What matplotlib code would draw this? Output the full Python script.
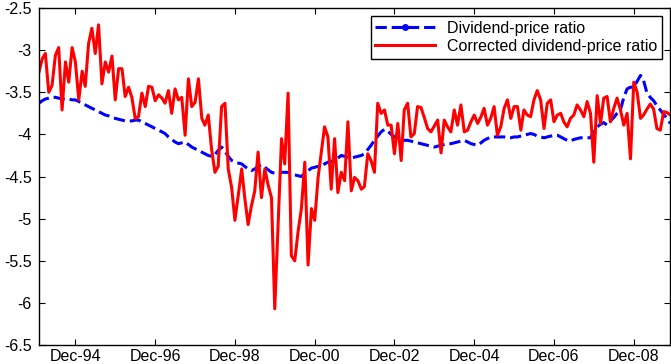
import numpy as np
import pandas as pd
import matplotlib
matplotlib.use('Agg')
import matplotlib.pyplot as plt
import matplotlib.dates as mdates
from matplotlib.lines import Line2D

plt.rcParams['font.family'] = ['Liberation Sans', 'DejaVu Sans']

# monthly observations, Jan 1994 - Nov 2009
dates = pd.date_range('1994-01-01', periods=191, freq='MS')

# corrected dividend-price ratio (red)
corrected_dp = [
    -3.26, -3.10, -3.04, -3.50, -3.42, -3.06, -2.97, -3.71, -3.14, -3.38,
    -2.97, -3.14, -3.59, -3.25, -3.43, -2.92, -2.74, -3.04, -2.70, -3.40,
    -3.14, -3.26, -3.07, -3.59, -3.22, -3.22, -3.55, -3.44, -3.56, -3.81,
    -3.79, -3.51, -3.67, -3.43, -3.44, -3.60, -3.53, -3.57, -3.63, -3.48,
    -3.75, -3.46, -3.59, -3.56, -4.01, -3.34, -3.67, -3.62, -3.34, -3.81,
    -3.89, -3.77, -4.17, -4.45, -4.38, -3.67, -3.63, -4.41, -4.63, -5.02,
    -4.72, -4.41, -4.75, -5.07, -4.85, -4.67, -4.21, -4.75, -4.41, -4.60,
    -4.75, -6.07, -5.05, -4.05, -4.35, -3.51, -5.44, -5.50, -5.16, -4.88,
    -4.33, -5.55, -4.88, -5.02, -4.51, -4.20, -3.91, -4.03, -4.65, -4.05,
    -4.69, -4.45, -4.55, -3.85, -4.67, -4.51, -4.55, -4.65, -4.62, -4.23,
    -4.31, -4.45, -3.63, -3.75, -3.71, -3.89, -3.89, -4.23, -3.87, -4.31,
    -3.71, -3.63, -4.03, -3.99, -3.67, -3.68, -3.80, -3.93, -3.97, -3.90,
    -3.83, -4.22, -3.83, -3.91, -3.97, -3.71, -3.89, -3.65, -3.97, -3.95,
    -3.85, -3.77, -3.87, -3.79, -3.69, -3.89, -3.81, -3.67, -4.01, -3.91,
    -3.69, -3.59, -3.81, -3.67, -3.67, -3.95, -3.71, -3.77, -3.79, -3.59,
    -3.48, -3.59, -3.93, -3.63, -3.59, -3.85, -3.77, -3.75, -3.85, -3.91,
    -3.81, -3.77, -3.65, -3.71, -3.79, -3.61, -3.75, -4.33, -3.54, -3.87,
    -3.57, -3.55, -3.85, -3.69, -3.57, -3.71, -3.89, -3.75, -4.29, -3.38,
    -3.50, -3.81, -3.77, -3.70, -3.64, -3.70, -3.93, -3.95, -3.73, -3.74,
    -3.77,
]

# plain dividend-price ratio (blue, dashed)
dp_ratio = [
    -3.63, -3.60, -3.58, -3.57, -3.56, -3.56, -3.57, -3.58, -3.58, -3.58,
    -3.59, -3.59, -3.61, -3.63, -3.65, -3.67, -3.69, -3.71, -3.73, -3.75,
    -3.77, -3.78, -3.80, -3.81, -3.82, -3.83, -3.84, -3.84, -3.84, -3.83,
    -3.83, -3.85, -3.87, -3.89, -3.91, -3.93, -3.95, -3.97, -3.99, -4.03,
    -4.06, -4.09, -4.11, -4.10, -4.09, -4.12, -4.15, -4.17, -4.19, -4.21,
    -4.23, -4.25, -4.26, -4.24, -4.19, -4.15, -4.20, -4.26, -4.31, -4.33,
    -4.34, -4.35, -4.38, -4.41, -4.43, -4.41, -4.38, -4.36, -4.39, -4.42,
    -4.45, -4.46, -4.46, -4.45, -4.45, -4.45, -4.47, -4.48, -4.49, -4.50,
    -4.46, -4.43, -4.40, -4.39, -4.38, -4.37, -4.35, -4.33, -4.32, -4.31,
    -4.28, -4.25, -4.26, -4.27, -4.28, -4.27, -4.26, -4.25, -4.23, -4.18,
    -4.13, -4.07, -4.02, -3.97, -3.94, -3.96, -4.00, -4.03, -4.05, -4.06,
    -4.07, -4.07, -4.08, -4.09, -4.10, -4.11, -4.12, -4.13, -4.14, -4.15,
    -4.14, -4.13, -4.12, -4.11, -4.11, -4.10, -4.09, -4.08, -4.07, -4.09,
    -4.11, -4.12, -4.13, -4.10, -4.07, -4.05, -4.03, -4.03, -4.03, -4.03,
    -4.03, -4.04, -4.04, -4.03, -4.03, -4.02, -4.01, -4.00, -3.99, -4.00,
    -4.02, -4.03, -4.04, -4.03, -4.02, -4.01, -4.01, -4.03, -4.05, -4.07,
    -4.08, -4.06, -4.05, -4.04, -4.04, -4.04, -4.04, -3.97, -3.91, -3.88,
    -3.86, -3.89, -3.84, -3.80, -3.75, -3.71, -3.56, -3.46, -3.44, -3.44,
    -3.37, -3.30, -3.36, -3.51, -3.56, -3.60, -3.66, -3.71, -3.76, -3.81,
    -3.87,
]

tick_dates = pd.to_datetime(['%d-12-01' % y for y in range(1994, 2009, 2)])
y_ticks = np.arange(-6.5, -2.49, 0.5)

fig = plt.figure(figsize=(6.71, 3.64), dpi=100)
ax = fig.add_axes([0.058, 0.052, 0.941, 0.926])

ax.plot(dates, dp_ratio, color='b', linestyle='--', linewidth=2.2)
ax.plot(dates, corrected_dp, color='r', linestyle='-', linewidth=2.2)

ax.set_xlim(dates[0], dates[-1])
ax.set_ylim(-6.5, -2.5)
ax.set_xticks(tick_dates)
ax.xaxis.set_major_formatter(mdates.DateFormatter('%b-%y'))
ax.set_yticks(y_ticks)
ax.set_yticklabels(['%g' % v for v in y_ticks])
ax.tick_params(direction='in', top=True, right=True, length=4,
               labelsize=11.5)
ax.tick_params(axis='y', pad=5)
ax.tick_params(axis='x', pad=2.5)
for s in ax.spines.values():
    s.set_linewidth(1.0)

handles = [Line2D([], [], color='b', linestyle='--', linewidth=2.2,
                  marker='.', markersize=8),
           Line2D([], [], color='r', linestyle='-', linewidth=2.2)]
leg = ax.legend(handles, ['Dividend-price ratio', 'Corrected dividend-price ratio'],
                loc='upper right', fontsize=11.5, fancybox=False, framealpha=1,
                edgecolor='k', handlelength=3.7, labelspacing=0.2,
                borderpad=0.3, borderaxespad=0.5, numpoints=1)
leg.get_frame().set_linewidth(1.0)

fig.savefig('out.png', dpi=100)
